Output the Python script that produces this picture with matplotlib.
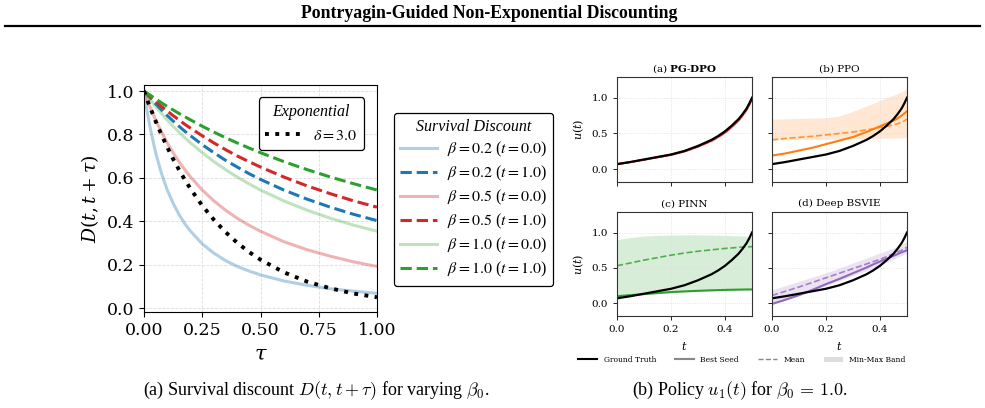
import numpy as np
import matplotlib
matplotlib.use("Agg")
import matplotlib.pyplot as plt
from matplotlib.lines import Line2D
from matplotlib.patches import Patch
from matplotlib.font_manager import FontProperties

plt.rcParams["font.family"] = "serif"
plt.rcParams["font.serif"] = ["DejaVu Serif"]
plt.rcParams["mathtext.fontset"] = "dejavuserif"

# Left panel: survival discount curves
tau = [0.0, 0.0125, 0.025, 0.05, 0.075, 0.1, 0.125, 0.15, 0.175, 0.2, 0.25,
       0.3, 0.35, 0.4, 0.45, 0.5, 0.6, 0.7, 0.8, 0.9, 1.0]
d_b02_t0 = [1.0, 0.913, 0.838, 0.716, 0.620, 0.544, 0.483, 0.432, 0.389, 0.354, 0.296,
            0.253, 0.219, 0.192, 0.171, 0.153, 0.125, 0.105, 0.089, 0.078, 0.068]
d_b02_t1 = [1.0, 0.985, 0.970, 0.941, 0.913, 0.887, 0.862, 0.838, 0.815, 0.794, 0.753,
            0.716, 0.681, 0.650, 0.620, 0.593, 0.544, 0.502, 0.465, 0.432, 0.403]
d_b05_t0 = [1.0, 0.964, 0.929, 0.867, 0.811, 0.761, 0.716, 0.675, 0.638, 0.604, 0.544,
            0.494, 0.451, 0.414, 0.382, 0.354, 0.306, 0.269, 0.239, 0.213, 0.192]
d_b05_t1 = [1.0, 0.988, 0.976, 0.952, 0.929, 0.908, 0.887, 0.867, 0.847, 0.829, 0.794,
            0.761, 0.730, 0.701, 0.675, 0.650, 0.604, 0.563, 0.527, 0.494, 0.465]
d_b10_t0 = [1.0, 0.982, 0.964, 0.929, 0.897, 0.867, 0.838, 0.811, 0.785, 0.761, 0.716,
            0.675, 0.638, 0.604, 0.573, 0.544, 0.494, 0.451, 0.414, 0.382, 0.354]
d_b10_t1 = [1.0, 0.991, 0.982, 0.964, 0.946, 0.929, 0.913, 0.897, 0.882, 0.867, 0.838,
            0.811, 0.785, 0.761, 0.738, 0.716, 0.675, 0.638, 0.604, 0.573, 0.544]
d_exp = [1.0, 0.963, 0.928, 0.861, 0.799, 0.741, 0.687, 0.638, 0.592, 0.549, 0.472,
         0.407, 0.350, 0.301, 0.259, 0.223, 0.165, 0.122, 0.091, 0.067, 0.050]

# Right panel: policy u1(t)
t_grid = [0.0, 0.05, 0.1, 0.15, 0.2, 0.25, 0.3, 0.35, 0.375, 0.4, 0.425, 0.45, 0.465, 0.48, 0.49, 0.5]
u_true = [0.07, 0.10, 0.135, 0.17, 0.205, 0.255, 0.325, 0.41, 0.465, 0.53, 0.61, 0.70, 0.77, 0.85, 0.92, 1.0]

u_pg_best = [0.07, 0.10, 0.133, 0.167, 0.20, 0.25, 0.318, 0.40, 0.455, 0.515, 0.595, 0.685, 0.755, 0.835, 0.905, 0.98]
u_pg_mean = [0.07, 0.10, 0.132, 0.166, 0.20, 0.248, 0.315, 0.395, 0.45, 0.51, 0.59, 0.68, 0.75, 0.83, 0.90, 0.98]
u_pg_lo = [0.06, 0.09, 0.123, 0.157, 0.19, 0.238, 0.303, 0.383, 0.437, 0.497, 0.577, 0.665, 0.735, 0.815, 0.885, 0.965]
u_pg_hi = [0.08, 0.11, 0.141, 0.175, 0.21, 0.258, 0.327, 0.41, 0.465, 0.525, 0.605, 0.695, 0.765, 0.845, 0.915, 0.99]

u_ppo_best = [0.19, 0.22, 0.26, 0.30, 0.35, 0.40, 0.45, 0.52, 0.56, 0.60, 0.64, 0.68, 0.71, 0.75, 0.78, 0.81]
u_ppo_mean = [0.41, 0.43, 0.445, 0.46, 0.48, 0.50, 0.52, 0.55, 0.565, 0.585, 0.60, 0.62, 0.635, 0.655, 0.675, 0.70]
u_ppo_lo = [0.41, 0.41, 0.415, 0.415, 0.42, 0.42, 0.425, 0.425, 0.43, 0.43, 0.435, 0.435, 0.44, 0.44, 0.44, 0.44]
u_ppo_hi = [0.70, 0.705, 0.71, 0.715, 0.72, 0.745, 0.81, 0.885, 0.92, 0.96, 1.0, 1.035, 1.06, 1.08, 1.10, 1.12]

u_pinn_best = [0.10, 0.115, 0.13, 0.145, 0.158, 0.168, 0.176, 0.183, 0.186, 0.189, 0.191, 0.193, 0.194, 0.195, 0.195, 0.195]
u_pinn_mean = [0.53, 0.57, 0.61, 0.645, 0.68, 0.71, 0.735, 0.755, 0.765, 0.775, 0.782, 0.79, 0.794, 0.797, 0.799, 0.80]
u_pinn_lo = [0.09, 0.105, 0.12, 0.135, 0.148, 0.158, 0.167, 0.175, 0.178, 0.182, 0.185, 0.187, 0.188, 0.19, 0.19, 0.19]
u_pinn_hi = [0.90, 0.93, 0.95, 0.96, 0.965, 0.968, 0.968, 0.965, 0.963, 0.96, 0.957, 0.953, 0.95, 0.945, 0.94, 0.935]

u_bs_best = [-0.01, 0.05, 0.115, 0.19, 0.27, 0.345, 0.425, 0.505, 0.55, 0.59, 0.63, 0.67, 0.695, 0.72, 0.735, 0.75]
u_bs_mean = [0.11, 0.17, 0.23, 0.295, 0.36, 0.425, 0.49, 0.555, 0.59, 0.62, 0.66, 0.70, 0.725, 0.75, 0.77, 0.79]
u_bs_lo = [-0.01, 0.05, 0.11, 0.18, 0.25, 0.32, 0.39, 0.46, 0.50, 0.54, 0.58, 0.62, 0.65, 0.675, 0.695, 0.71]
u_bs_hi = [0.19, 0.25, 0.31, 0.37, 0.43, 0.50, 0.57, 0.64, 0.675, 0.71, 0.745, 0.78, 0.80, 0.83, 0.85, 0.87]

fig = plt.figure(figsize=(9.85, 4.08), dpi=100)

# Header
fig.text(0.4965, 1 - 13 / 408, "Pontryagin-Guided Non-Exponential Discounting",
         ha="center", va="center", family="Liberation Serif", weight="bold", size=12.8)
fig.add_artist(Line2D([5 / 985, 980 / 985], [1 - 25.5 / 408] * 2, color="black", lw=1.6))

# Left panel
ax = fig.add_axes([144 / 985, 96 / 408, 233 / 985, 227 / 408])
surv = [
    (d_b02_t0, "tab:blue", "-", 0.35, r"$\beta=0.2$ ($t=0.0$)"),
    (d_b02_t1, "tab:blue", "--", 1.0, r"$\beta=0.2$ ($t=1.0$)"),
    (d_b05_t0, "tab:red", "-", 0.35, r"$\beta=0.5$ ($t=0.0$)"),
    (d_b05_t1, "tab:red", "--", 1.0, r"$\beta=0.5$ ($t=1.0$)"),
    (d_b10_t0, "tab:green", "-", 0.3, r"$\beta=1.0$ ($t=0.0$)"),
    (d_b10_t1, "tab:green", "--", 1.0, r"$\beta=1.0$ ($t=1.0$)"),
]
surv_handles = []
for vals, c, ls, a, lab in surv:
    h, = ax.plot(tau, vals, color=c, ls=ls, alpha=a, lw=2.2, label=lab)
    surv_handles.append(h)
h_exp, = ax.plot(tau, d_exp, color="black", ls=":", lw=2.8, label=r"$\delta=3.0$")

ax.set_xlim(0, 1)
ax.set_ylim(-0.018, 1.028)
ax.set_xticks([0, 0.25, 0.5, 0.75, 1.0])
ax.set_yticks([0, 0.2, 0.4, 0.6, 0.8, 1.0])
ax.tick_params(labelsize=12.5)
ax.grid(True, ls="--", lw=0.6, color="#dddddd")
ax.set_xlabel(r"$\tau$", fontsize=15)
ax.set_ylabel(r"$D(t,t+\tau)$", fontsize=13.5)

lp = FontProperties(family="Liberation Serif", size=11.5, math_fontfamily="stix")
tp = FontProperties(family="Liberation Serif", style="italic", size=11.5)
leg1 = ax.legend(handles=[h_exp], title="Exponential", prop=lp, title_fontproperties=tp,
                 loc="upper right", bbox_to_anchor=(0.944, 0.945), borderaxespad=0,
                 framealpha=1, edgecolor="black", handlelength=2.2)
leg1.get_frame().set_linewidth(0.9)

leg2 = fig.legend(handles=surv_handles, title="Survival Discount", prop=lp, title_fontproperties=tp,
                  loc="upper left", bbox_to_anchor=(394 / 985, 1 - 113 / 408), borderaxespad=0,
                  framealpha=1, edgecolor="black", handlelength=2.3, labelspacing=0.3,
                  handletextpad=0.6)
leg2.get_frame().set_linewidth(0.9)

# Right panel
panels = [
    ([617, 226, 135, 105], r"(a) $\mathbf{PG}$-$\mathbf{DPO}$", "tab:red", u_pg_best, u_pg_mean, u_pg_lo, u_pg_hi),
    ([772, 226, 135, 105], "(b) PPO", "tab:orange", u_ppo_best, u_ppo_mean, u_ppo_lo, u_ppo_hi),
    ([617, 92, 135, 104], "(c) PINN", "tab:green", u_pinn_best, u_pinn_mean, u_pinn_lo, u_pinn_hi),
    ([772, 92, 135, 104], "(d) Deep BSVIE", "tab:purple", u_bs_best, u_bs_mean, u_bs_lo, u_bs_hi),
]
for i, (box, title, c, best, mean, lo, hi) in enumerate(panels):
    x0, y0, w, h = box
    a = fig.add_axes([x0 / 985, y0 / 408, w / 985, h / 408])
    a.fill_between(t_grid, lo, hi, color=c, alpha=0.18, lw=0)
    a.plot(t_grid, mean, color=c, ls="--", lw=1.2, alpha=0.8)
    a.plot(t_grid, best, color=c, lw=1.5)
    a.plot(t_grid, u_true, color="black", lw=1.6)
    a.set_xlim(0, 0.5)
    a.set_ylim(-0.18, 1.29)
    a.set_xticks([0, 0.2, 0.4])
    a.set_yticks([0, 0.5, 1.0])
    a.grid(True, ls=":", lw=0.6, color="#dddddd")
    a.tick_params(labelsize=7.5, length=3, width=0.6)
    for s in a.spines.values():
        s.set_linewidth(0.8)
        s.set_color("#333333")
    a.set_title(title, fontsize=7.5, pad=4)
    if i < 2:
        a.tick_params(labelbottom=False)
    else:
        a.set_xlabel(r"$t$", fontsize=8)
    if i % 2 == 1:
        a.tick_params(labelleft=False)
    else:
        a.set_ylabel(r"$u(t)$", fontsize=8)

pol_handles = [
    Line2D([], [], color="black", lw=1.5),
    Line2D([], [], color="#888888", lw=1.5),
    Line2D([], [], color="#888888", lw=1.0, ls="--"),
    Patch(facecolor="#dddddd", edgecolor="none"),
]
fig.legend(handles=pol_handles, labels=["Ground Truth", "Best Seed", "Mean", "Min-Max Band"],
           loc="center", bbox_to_anchor=(742 / 985, 1 - 360 / 408), ncol=4, frameon=False,
           fontsize=5.5, handlelength=2.5, columnspacing=2.5)

# Captions
cp = dict(family="Liberation Serif", size=13, math_fontfamily="cm", ha="center", va="center")
fig.text(316 / 985, 1 - 391 / 408, r"(a) Survival discount $D(t, t+\tau)$ for varying $\beta_0$.", **cp)
fig.text(740 / 985, 1 - 391 / 408, r"(b) Policy $u_1(t)$ for $\beta_0\, =\, 1.0$.", **cp)

fig.savefig("out.png", dpi=100)
